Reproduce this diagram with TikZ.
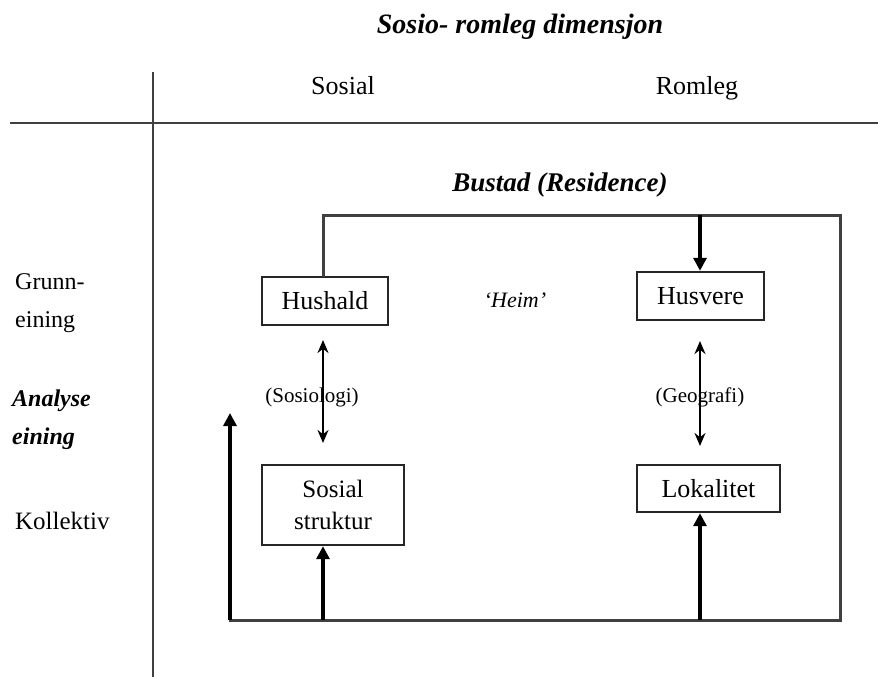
\documentclass[tikz,border=0pt]{standalone}
\usepackage{fontspec}
\setmainfont{Liberation Serif}
\usetikzlibrary{arrows.meta}
\begin{document}
\begin{tikzpicture}[x=1pt,y=-1pt,
  lbl/.style={font=\fontsize{26}{30}\selectfont, inner sep=0pt, align=left},
  small/.style={font=\fontsize{21}{24}\selectfont, inner sep=1pt},
  bx/.style={draw=black!85, line width=2.4pt, font=\fontsize{26}{28}\selectfont, align=center, inner sep=0pt},
  frame/.style={draw=black!75, line width=3pt},
  arr/.style={draw=black, line width=3.6pt, -{Triangle[length=13pt,width=13pt]}},
  darr/.style={draw=black, line width=2.8pt, {Stealth[length=13pt,width=11pt]}-{Stealth[length=13pt,width=11pt]}}]
\useasboundingbox (0,0) rectangle (878,677);
% axes
\draw[frame, line width=2.6pt] (153,72) -- (153,677);
\draw[frame, line width=2.6pt] (10,123) -- (878,123);
% headings
\node[font=\fontsize{28}{30}\selectfont\bfseries\itshape] (title) at (520,27) {Sosio- romleg dimensjon};
\node[lbl, anchor=base] (sos) at (343,94) {Sosial};
\node[lbl, anchor=base] (rom) at (697,94) {Romleg};
\node[font=\fontsize{27}{30}\selectfont\bfseries\itshape, anchor=base] (bust) at (560,191) {Bustad (Residence)};
% left labels
\node[lbl, anchor=west, align=left, font=\fontsize{24}{38}\selectfont] (grunn) at (15,303) {Grunn-\\eining};
\node[lbl, anchor=west, align=left, font=\fontsize{24}{38}\selectfont\bfseries\itshape] (anal) at (12,420) {Analyse\\eining};
\node[lbl, anchor=west, font=\fontsize{25}{30}\selectfont] (koll) at (15,521) {Kollektiv};
% boxes
\node[bx, minimum width=126pt, minimum height=48pt] (hush) at (325,301) {Hushald};
\node[bx, minimum width=127pt, minimum height=48pt] (husv) at (700.5,296) {Husvere};
\node[bx, minimum width=142pt, minimum height=80pt, font=\fontsize{25}{32}\selectfont] (sstr) at (333,505) {Sosial\\struktur};
\node[bx, minimum width=143pt, minimum height=47pt] (lok) at (708.5,488.5) {Lokalitet};
\node[font=\fontsize{22}{24}\selectfont\itshape] (heim) at (515,300) {`Heim'};
% frame coordinates
\coordinate (tl) at (323,215);
\coordinate (tm) at (700,215);
\coordinate (tr) at (840,215);
\coordinate (br) at (840,620);
\coordinate (bl) at (230,620);
\coordinate (bs) at (323,620);
\coordinate (bk) at (700,620);
\coordinate (la) at (230,413);
\draw[frame, line cap=rect] (hush.north -| tl) -- (tl) -- (tr) -- (br) -- (bl);
\draw[arr] (bl) -- (la);
\draw[arr] (tm) -- (husv.north -| tm);
\draw[arr] (bs) -- (sstr.south -| bs);
\draw[arr] (bk) -- (lok.south -| bk);
% double arrows
\coordinate (h1) at (323,340);
\coordinate (h2) at (323,443);
\coordinate (g1) at (700,341);
\coordinate (g2) at (700,446);
\draw[darr] (h1) -- (h2);
\draw[darr] (g1) -- (g2);
\node[small] (soc) at (312,397) {(Sosiologi)};
\node[small] (geo) at (700,397) {(Geografi)};
\end{tikzpicture}
\end{document}
